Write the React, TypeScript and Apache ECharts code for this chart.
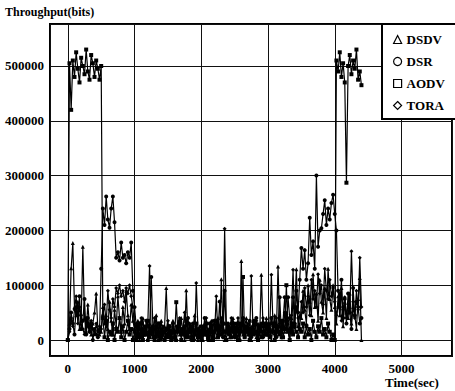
import React, { useEffect, useRef } from "react";
import * as echarts from "echarts";

// Sampling grid: one sample every 25 s from 0 to 4400 s
const T_START = 0;
const T_STEP = 25;

const seriesNames = ["DSDV", "DSR", "AODV", "TORA"];
const seriesSymbols = ["triangle", "circle", "rect", "diamond"];

// Throughput values in kilobits per sample (x1000 = bits)
const dsdv = [
  0, 30, 131, 177, 60, 45, 70, 20, 35, 170, 40, 15, 65, 25, 10, 30, 50, 85, 20, 10,
  15, 60, 30, 45, 20, 70, 35, 10, 55, 25, 80, 40, 15, 60, 30, 90, 45, 20, 65, 35,
  20, 5, 35, 0, 15, 40, 10, 25, 0, 30, 15, 5, 20, 45, 0, 15, 35, 10, 25, 95,
  5, 20, 0, 35, 15, 0, 25, 10, 40, 15, 0, 91, 10, 30, 5, 20, 45, 10, 0, 25,
  10, 0, 30, 10, 20, 0, 35, 15, 5, 25, 40, 10, 111, 20, 0, 30, 15, 5, 25, 40,
  15, 5, 30, 0, 144, 10, 25, 40, 10, 20, 0, 35, 15, 5, 30, 10, 119, 25, 10, 40,
  10, 30, 0, 20, 45, 10, 134, 25, 5, 35, 15, 50, 20, 0, 40, 15, 60, 129, 25, 45,
  40, 90, 55, 30, 100, 70, 45, 120, 60, 85, 35, 110, 70, 50, 95, 40, 130, 75, 55, 100,
  60, 30, 80, 45, 95, 25, 70, 50, 40, 85, 30, 60, 45, 20, 75, 113, 0,
];

const dsr = [
  0, 20, 50, 30, 10, 60, 45, 80, 20, 35, 75, 10, 40, 15, 30, 0, 20, 10, 5, 15,
  130, 240, 210, 262, 220, 205, 240, 262, 215, 150, 160, 145, 178, 150, 155, 140, 160, 150, 178, 90,
  60, 25, 10, 30, 5, 20, 10, 35, 0, 15, 115, 25, 5, 10, 30, 0, 20, 10, 15, 5,
  10, 25, 5, 30, 15, 0, 20, 35, 10, 15, 25, 5, 40, 15, 0, 30, 10, 20, 15, 5,
  25, 10, 40, 15, 0, 30, 15, 5, 35, 20, 10, 70, 25, 5, 90, 15, 30, 10, 20, 15,
  5, 30, 15, 0, 25, 40, 10, 20, 15, 35, 5, 25, 15, 40, 10, 20, 30, 5, 15, 25,
  10, 20, 40, 15, 30, 5, 25, 78, 15, 35, 78, 20, 78, 40, 15, 78, 30, 90, 50, 110,
  168, 130, 164, 110, 140, 223, 155, 180, 130, 300, 170, 200, 204, 230, 255, 210, 240, 220, 250, 265,
  230, 200, 90, 60, 110, 40, 75, 30, 85, 50, 20, 95, 45, 70, 60, 30, 40,
];

const aodv = [
  0, 505, 420, 510, 480, 525, 495, 470, 515, 500, 485, 530, 490, 475, 520, 505, 480, 510, 495, 475,
  500, 40, 5, 35, 0, 15, 10, 30, 0, 20, 15, 40, 5, 25, 0, 15, 35, 10, 20, 0,
  15, 0, 25, 5, 30, 0, 15, 10, 35, 5, 20, 15, 0, 25, 10, 30, 5, 15, 0, 20,
  10, 25, 0, 15, 5, 69, 15, 30, 0, 20, 10, 35, 5, 15, 25, 0, 15, 30, 5, 15,
  0, 20, 10, 30, 5, 15, 25, 0, 15, 35, 5, 20, 10, 30, 15, 0, 25, 15, 5, 30,
  10, 20, 0, 30, 15, 115, 5, 25, 15, 0, 20, 10, 35, 15, 0, 25, 5, 15, 30, 10,
  20, 5, 15, 30, 0, 25, 15, 10, 35, 5, 20, 100, 15, 0, 30, 10, 25, 15, 5, 20,
  15, 30, 5, 25, 10, 20, 0, 35, 15, 5, 25, 15, 40, 10, 20, 5, 30, 15, 0, 10,
  0, 510, 490, 525, 480, 505, 470, 287, 500, 520, 485, 510, 495, 530, 475, 490, 465,
];

const tora = [
  0, 15, 40, 25, 55, 80, 30, 60, 45, 20, 10, 40, 25, 15, 35, 20, 10, 30, 15, 25,
  20, 45, 65, 30, 90, 55, 40, 75, 60, 95, 85, 100, 80, 90, 70, 95, 85, 100, 80, 60,
  20, 30, 5, 20, 40, 10, 25, 15, 35, 135, 10, 20, 40, 5, 15, 30, 0, 25, 15, 20,
  35, 5, 15, 30, 0, 25, 15, 40, 10, 20, 50, 15, 5, 30, 15, 25, 0, 104, 20, 10,
  5, 25, 15, 40, 10, 20, 0, 35, 15, 80, 5, 25, 40, 15, 203, 30, 10, 20, 40, 15,
  25, 15, 40, 10, 20, 35, 5, 15, 30, 10, 117, 20, 15, 35, 5, 25, 15, 40, 10, 20,
  30, 15, 119, 25, 10, 40, 15, 30, 5, 25, 50, 20, 35, 15, 45, 128, 30, 60, 40, 20,
  70, 50, 95, 60, 80, 45, 110, 75, 90, 60, 120, 85, 100, 65, 130, 90, 75, 110, 80, 95,
  70, 45, 60, 85, 35, 55, 78, 40, 65, 50, 162, 70, 40, 90, 55, 150, 60,
];

const seriesValues = [dsdv, dsr, aodv, tora];

const xTickLabels = ["0", "1000", "2000", "3000", "4000", "5000"];
const yTickLabels = ["0", "100000", "200000", "300000", "400000", "500000"];

const FONT = "'Liberation Serif', 'Times New Roman', serif";

export default function App() {
  const ref = useRef<HTMLDivElement>(null);

  useEffect(() => {
    document.body.style.margin = "0";
    if (!ref.current) return;
    const chart = echarts.init(ref.current, null, { renderer: "svg" });

    const series = seriesNames.map((name, k) => ({
      name,
      type: "line",
      symbol: seriesSymbols[k],
      symbolSize: 4,
      showSymbol: true,
      showAllSymbol: true,
      data: seriesValues[k].map((v, i) => [T_START + i * T_STEP, v * 1000]),
      lineStyle: { color: "#000", width: 1.2 },
      itemStyle: { color: "#000" },
      emphasis: { disabled: true },
    }));

    chart.setOption({
      animation: false,
      textStyle: { fontFamily: FONT },
      grid: {
        left: 50,
        top: 24,
        right: -1,
        bottom: 35,
        show: true,
        borderColor: "#000",
        borderWidth: 2,
        backgroundColor: "transparent",
      },
      xAxis: {
        type: "value",
        min: -267,
        max: 5757,
        splitNumber: 5,
        axisLine: { show: false },
        axisTick: { show: false },
        axisLabel: {
          margin: 6,
          color: "#000",
          fontFamily: FONT,
          fontWeight: "bold",
          fontSize: 13,
          formatter: (v: number) =>
            xTickLabels.includes(String(Math.round(v))) && Math.abs(v - Math.round(v)) < 1e-6
              ? String(Math.round(v))
              : "",
        },
        splitLine: { show: true, lineStyle: { color: "#111", width: 1 } },
      },
      yAxis: {
        type: "value",
        min: -29197,
        max: 576642,
        splitNumber: 6,
        axisLine: { show: false },
        axisTick: { show: false },
        axisLabel: {
          margin: 6,
          color: "#000",
          fontFamily: FONT,
          fontWeight: "bold",
          fontSize: 13,
          formatter: (v: number) =>
            yTickLabels.includes(String(Math.round(v))) && Math.abs(v - Math.round(v)) < 1e-6
              ? String(Math.round(v))
              : "",
        },
        splitLine: { show: true, lineStyle: { color: "#111", width: 1 } },
      },
      legend: {
        orient: "vertical",
        left: 382,
        top: 24,
        padding: [9, 40, 7, 11],
        itemWidth: 8,
        itemHeight: 8,
        itemGap: 9,
        backgroundColor: "#fff",
        borderColor: "#000",
        borderWidth: 2,
        borderRadius: 0,
        itemStyle: { color: "#fff", borderColor: "#000", borderWidth: 1.2 },
        textStyle: {
          color: "#000",
          fontFamily: FONT,
          fontWeight: "bold",
          fontSize: 13,
          padding: [0, 0, 0, 0],
        },
        data: seriesNames.map((name, k) => ({
          name,
          icon: seriesSymbols[k],
          itemStyle: { color: "#fff", borderColor: "#000", borderWidth: 1.2 },
        })),
      },
      graphic: [
        {
          type: "text",
          left: 5,
          top: 6,
          style: {
            text: "Throughput(bits)",
            fill: "#000",
            font: `bold 12px ${FONT}`,
          },
        },
        {
          type: "text",
          left: 385,
          top: 376,
          style: {
            text: "Time(sec)",
            fill: "#000",
            font: `bold 13px ${FONT}`,
          },
        },
      ],
      series,
    });

    return () => chart.dispose();
  }, []);

  return <div ref={ref} style={{ width: 455, height: 391 }} />;
}
